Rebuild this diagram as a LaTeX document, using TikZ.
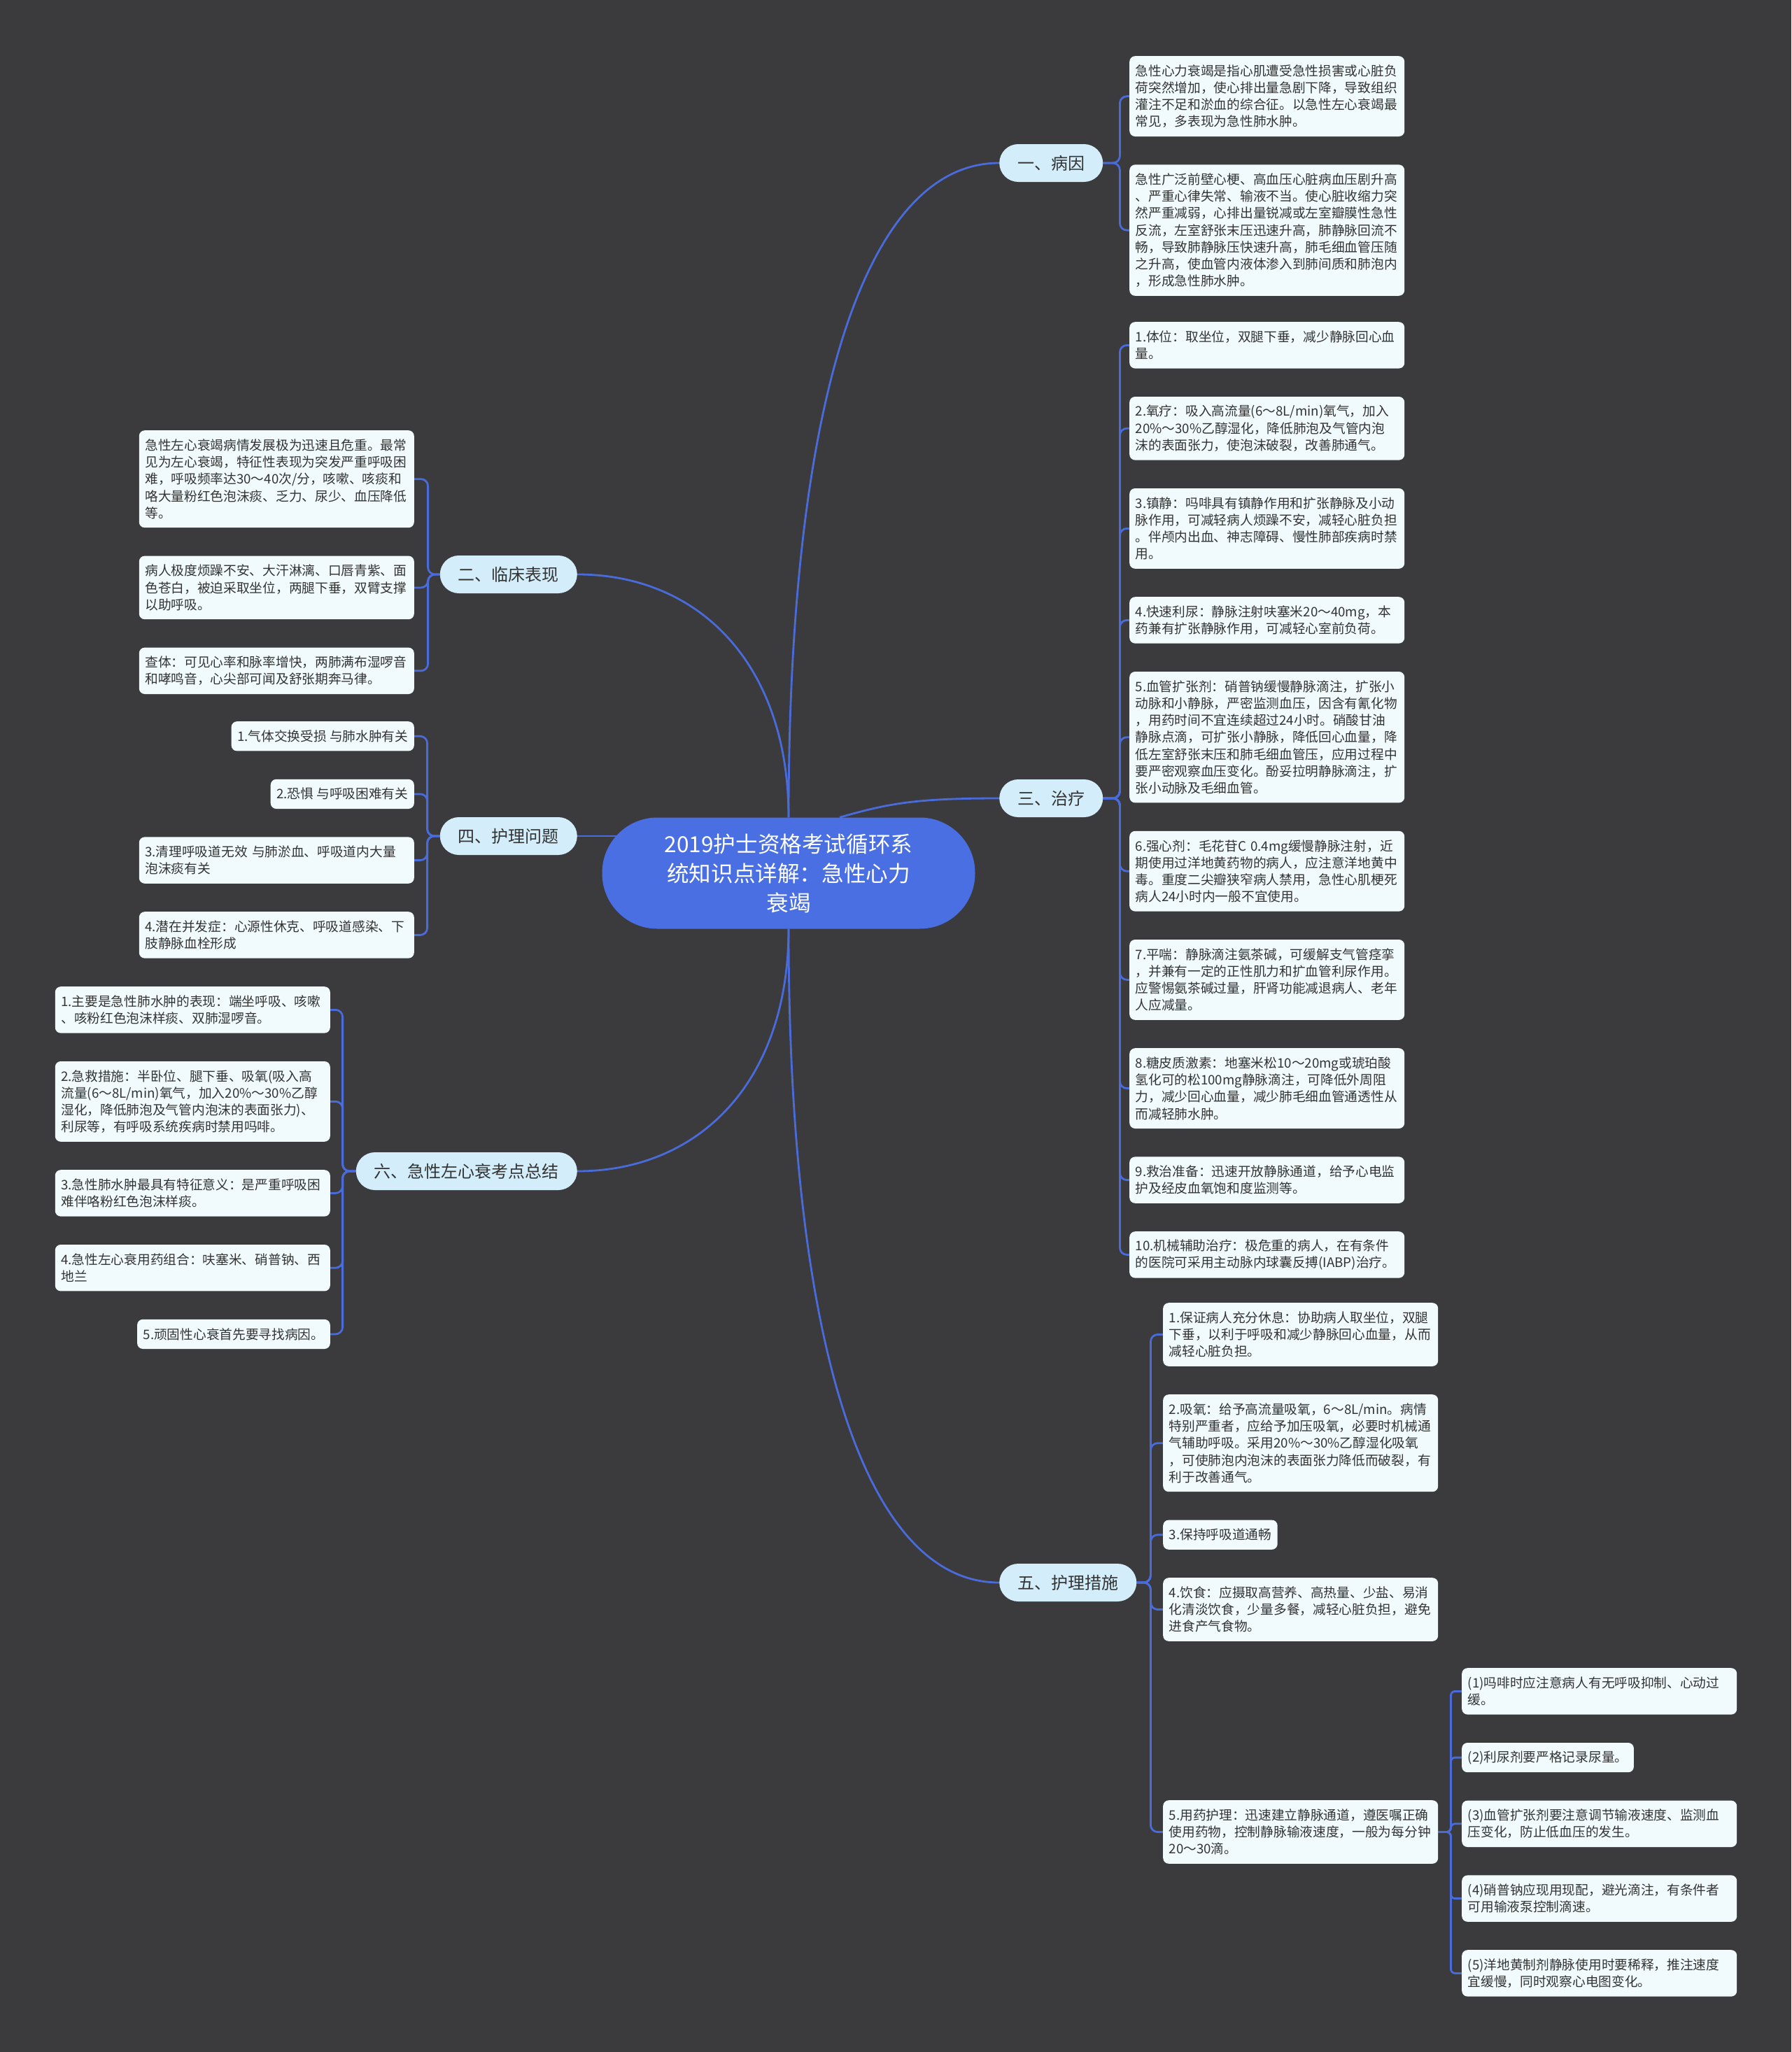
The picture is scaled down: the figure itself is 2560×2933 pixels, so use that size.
\documentclass[tikz,border=0pt]{standalone}
\usepackage{fontspec}
\setmainfont{Noto Sans CJK SC}
\usepackage{xcolor}
\usetikzlibrary{positioning,backgrounds}

\definecolor{pagebg}{HTML}{3B3A3D}
\definecolor{leaffill}{HTML}{F1FBFE}
\definecolor{branchfill}{HTML}{D3EEFA}
\definecolor{topicfill}{HTML}{4A6FE3}
\definecolor{linkblue}{HTML}{4A6CDB}
\definecolor{inktext}{HTML}{333333}

\begin{document}
\begin{tikzpicture}[x=1pt, y=-1pt,
    topicbox/.style={fill=topicfill, rounded corners=79pt, minimum width=533pt,
        minimum height=159pt, text=white, align=center,
        font=\fontsize{31.6pt}{42pt}\selectfont},
    branch/.style={fill=branchfill, rounded corners=27pt, minimum height=54pt,
        inner xsep=26pt, text=inktext, font=\fontsize{24pt}{28pt}\selectfont},
    leaf/.style={fill=leaffill, rounded corners=8pt, inner xsep=8.5pt,
        inner ysep=4pt, text=inktext, font=\fontsize{18.7pt}{24.2pt}\selectfont},
    wide/.style={text width=376pt, align=left},
    nlines/.style={minimum height=18pt+#1*24.2pt},
    link/.style={draw=linkblue, line width=2.8pt},
    fork/.style={link, rounded corners=10pt},
]
\useasboundingbox (0,0) rectangle (2560,2933);
\begin{scope}[on background layer]
  \fill[pagebg] (0,0) rectangle (2560,2933);
\end{scope}

% Main topic
\node[topicbox] (topic) at (1127,1248) {2019护士资格考试循环系\\统知识点详解：急性心力\\衰竭};

% Six branches
\node[branch, anchor=west] (cause) at (1428,233) {一、病因};
\node[branch, anchor=west] (treat) at (1428,1141) {三、治疗};
\node[branch, anchor=west] (care) at (1428,2262) {五、护理措施};
\node[branch, anchor=east] (clinic) at (825,821) {二、临床表现};
\node[branch, anchor=east] (problem) at (825,1195) {四、护理问题};
\node[branch, anchor=east] (summary) at (825,1674) {六、急性左心衰考点总结};

% Cause leaves
\node[leaf, wide, nlines=4, anchor=north west] (cause1) at (1614,80)
    {急性心力衰竭是指心肌遭受急性损害或心脏负\\荷突然增加，使心排出量急剧下降，导致组织\\灌注不足和淤血的综合征。以急性左心衰竭最\\常见，多表现为急性肺水肿。};
\node[leaf, wide, nlines=7, below right=40pt and 0pt of cause1.south west] (cause2)
    {急性广泛前壁心梗、高血压心脏病血压剧升高\\、严重心律失常、输液不当。使心脏收缩力突\\然严重减弱，心排出量锐减或左室瓣膜性急性\\反流，左室舒张末压迅速升高，肺静脉回流不\\畅，导致肺静脉压快速升高，肺毛细血管压随\\之升高，使血管内液体渗入到肺间质和肺泡内\\，形成急性肺水肿。};

% Treatment leaves
\node[leaf, wide, nlines=2, anchor=north west] (treat1) at (1614,460)
    {1.体位：取坐位，双腿下垂，减少静脉回心血\\量。};
\node[leaf, wide, nlines=3, below right=40pt and 0pt of treat1.south west] (treat2)
    {2.氧疗：吸入高流量(6～8L/min)氧气，加入\\20\%～30\%乙醇湿化，降低肺泡及气管内泡\\沫的表面张力，使泡沫破裂，改善肺通气。};
\node[leaf, wide, nlines=4, below right=40pt and 0pt of treat2.south west] (treat3)
    {3.镇静：吗啡具有镇静作用和扩张静脉及小动\\脉作用，可减轻病人烦躁不安，减轻心脏负担\\。伴颅内出血、神志障碍、慢性肺部疾病时禁\\用。};
\node[leaf, wide, nlines=2, below right=40pt and 0pt of treat3.south west] (treat4)
    {4.快速利尿：静脉注射呋塞米20～40mg，本\\药兼有扩张静脉作用，可减轻心室前负荷。};
\node[leaf, wide, nlines=7, below right=40pt and 0pt of treat4.south west] (treat5)
    {5.血管扩张剂：硝普钠缓慢静脉滴注，扩张小\\动脉和小静脉，严密监测血压，因含有氰化物\\，用药时间不宜连续超过24小时。硝酸甘油\\静脉点滴，可扩张小静脉，降低回心血量，降\\低左室舒张末压和肺毛细血管压，应用过程中\\要严密观察血压变化。酚妥拉明静脉滴注，扩\\张小动脉及毛细血管。};
\node[leaf, wide, nlines=4, below right=40pt and 0pt of treat5.south west] (treat6)
    {6.强心剂：毛花苷C 0.4mg缓慢静脉注射，近\\期使用过洋地黄药物的病人，应注意洋地黄中\\毒。重度二尖瓣狭窄病人禁用，急性心肌梗死\\病人24小时内一般不宜使用。};
\node[leaf, wide, nlines=4, below right=40pt and 0pt of treat6.south west] (treat7)
    {7.平喘：静脉滴注氨茶碱，可缓解支气管痉挛\\，并兼有一定的正性肌力和扩血管利尿作用。\\应警惕氨茶碱过量，肝肾功能减退病人、老年\\人应减量。};
\node[leaf, wide, nlines=4, below right=40pt and 0pt of treat7.south west] (treat8)
    {8.糖皮质激素：地塞米松10～20mg或琥珀酸\\氢化可的松100mg静脉滴注，可降低外周阻\\力，减少回心血量，减少肺毛细血管通透性从\\而减轻肺水肿。};
\node[leaf, wide, nlines=2, below right=40pt and 0pt of treat8.south west] (treat9)
    {9.救治准备：迅速开放静脉通道，给予心电监\\护及经皮血氧饱和度监测等。};
\node[leaf, wide, nlines=2, below right=40pt and 0pt of treat9.south west] (treat10)
    {10.机械辅助治疗：极危重的病人，在有条件\\的医院可采用主动脉内球囊反搏(IABP)治疗。};

% Nursing care leaves
\node[leaf, wide, nlines=3, anchor=north west] (care1) at (1662,1862)
    {1.保证病人充分休息：协助病人取坐位，双腿\\下垂，以利于呼吸和减少静脉回心血量，从而\\减轻心脏负担。};
\node[leaf, wide, nlines=5, below right=40pt and 0pt of care1.south west] (care2)
    {2.吸氧：给予高流量吸氧，6～8L/min。病情\\特别严重者，应给予加压吸氧，必要时机械通\\气辅助呼吸。采用20\%～30\%乙醇湿化吸氧\\，可使肺泡内泡沫的表面张力降低而破裂，有\\利于改善通气。};
\node[leaf, nlines=1, below right=40pt and 0pt of care2.south west] (care3)
    {3.保持呼吸道通畅};
\node[leaf, wide, nlines=3, below right=40pt and 0pt of care3.south west] (care4)
    {4.饮食：应摄取高营养、高热量、少盐、易消\\化清淡饮食，少量多餐，减轻心脏负担，避免\\进食产气食物。};
\node[leaf, wide, nlines=3, anchor=north west] (care5) at (1662,2573)
    {5.用药护理：迅速建立静脉通道，遵医嘱正确\\使用药物，控制静脉输液速度，一般为每分钟\\20～30滴。};

% Drug care details
\node[leaf, wide, nlines=2, anchor=north west] (drug1) at (2089,2384)
    {(1)吗啡时应注意病人有无呼吸抑制、心动过\\缓。};
\node[leaf, nlines=1, below right=40pt and 0pt of drug1.south west] (drug2)
    {(2)利尿剂要严格记录尿量。};
\node[leaf, wide, nlines=2, below right=40pt and 0pt of drug2.south west] (drug3)
    {(3)血管扩张剂要注意调节输液速度、监测血\\压变化，防止低血压的发生。};
\node[leaf, wide, nlines=2, below right=40pt and 0pt of drug3.south west] (drug4)
    {(4)硝普钠应现用现配，避光滴注，有条件者\\可用输液泵控制滴速。};
\node[leaf, wide, nlines=2, below right=40pt and 0pt of drug4.south west] (drug5)
    {(5)洋地黄制剂静脉使用时要稀释，推注速度\\宜缓慢，同时观察心电图变化。};

% Clinical leaves
\node[leaf, wide, nlines=5, anchor=north east] (clinic1) at (592,615)
    {急性左心衰竭病情发展极为迅速且危重。最常\\见为左心衰竭，特征性表现为突发严重呼吸困\\难，呼吸频率达30～40次/分，咳嗽、咳痰和\\咯大量粉红色泡沫痰、乏力、尿少、血压降低\\等。};
\node[leaf, wide, nlines=3, below left=40pt and 0pt of clinic1.south east] (clinic2)
    {病人极度烦躁不安、大汗淋漓、口唇青紫、面\\色苍白，被迫采取坐位，两腿下垂，双臂支撑\\以助呼吸。};
\node[leaf, wide, nlines=2, below left=40pt and 0pt of clinic2.south east] (clinic3)
    {查体：可见心率和脉率增快，两肺满布湿啰音\\和哮鸣音，心尖部可闻及舒张期奔马律。};

% Problem leaves
\node[leaf, nlines=1, anchor=north east] (problem1) at (592,1031)
    {1.气体交换受损 与肺水肿有关};
\node[leaf, nlines=1, below left=40pt and 0pt of problem1.south east] (problem2)
    {2.恐惧 与呼吸困难有关};
\node[leaf, wide, nlines=2, below left=40pt and 0pt of problem2.south east] (problem3)
    {3.清理呼吸道无效 与肺淤血、呼吸道内大量\\泡沫痰有关};
\node[leaf, wide, nlines=2, below left=40pt and 0pt of problem3.south east] (problem4)
    {4.潜在并发症：心源性休克、呼吸道感染、下\\肢静脉血栓形成};

% Summary leaves
\node[leaf, wide, nlines=2, anchor=north east] (summary1) at (472,1410)
    {1.主要是急性肺水肿的表现：端坐呼吸、咳嗽\\、咳粉红色泡沫样痰、双肺湿啰音。};
\node[leaf, wide, nlines=4, below left=40pt and 0pt of summary1.south east] (summary2)
    {2.急救措施：半卧位、腿下垂、吸氧(吸入高\\流量(6～8L/min)氧气，加入20\%～30\%乙醇\\湿化，降低肺泡及气管内泡沫的表面张力)、\\利尿等，有呼吸系统疾病时禁用吗啡。};
\node[leaf, wide, nlines=2, below left=40pt and 0pt of summary2.south east] (summary3)
    {3.急性肺水肿最具有特征意义：是严重呼吸困\\难伴咯粉红色泡沫样痰。};
\node[leaf, wide, nlines=2, below left=40pt and 0pt of summary3.south east] (summary4)
    {4.急性左心衰用药组合：呋塞米、硝普钠、西\\地兰};
\node[leaf, nlines=1, below left=40pt and 0pt of summary4.south east] (summary5)
    {5.顽固性心衰首先要寻找病因。};

% Connectors, behind the nodes
\begin{scope}[on background layer]
  \draw[link] (topic.north) .. controls +(0,-572) and +(-198,0) .. (cause.west);
  \draw[link] ([xshift=73pt]topic.north) .. controls +(70,-20) and +(-120,0) .. (treat.west);
  \draw[link] (topic.south) .. controls +(0,572) and +(-198,0) .. (care.west);
  \draw[link] (topic.north) .. controls +(0,-218) and +(175,0) .. (clinic.east);
  \draw[link] (problem.east) -- (topic.center |- problem.east);
  \draw[link] (topic.south) .. controls +(0,218) and +(175,0) .. (summary.east);

  \foreach \k in {1,2} \draw[fork] (cause.east) -- ++(24,0) |- (cause\k.west);
  \foreach \k in {1,...,10} \draw[fork] (treat.east) -- ++(24,0) |- (treat\k.west);
  \foreach \k in {1,...,5} \draw[fork] (care.east) -- ++(20,0) |- (care\k.west);
  \foreach \k in {1,...,5} \draw[fork, rounded corners=6pt] (care5.east) -- ++(18,0) |- (drug\k.west);
  \foreach \k in {1,2,3} \draw[fork] (clinic.west) -- ++(-17,0) |- (clinic\k.east);
  \foreach \k in {1,...,4} \draw[fork] (problem.west) -- ++(-18,0) |- (problem\k.east);
  \foreach \k in {1,...,5} \draw[fork] (summary.west) -- ++(-19,0) |- (summary\k.east);
\end{scope}
\end{tikzpicture}
\end{document}
